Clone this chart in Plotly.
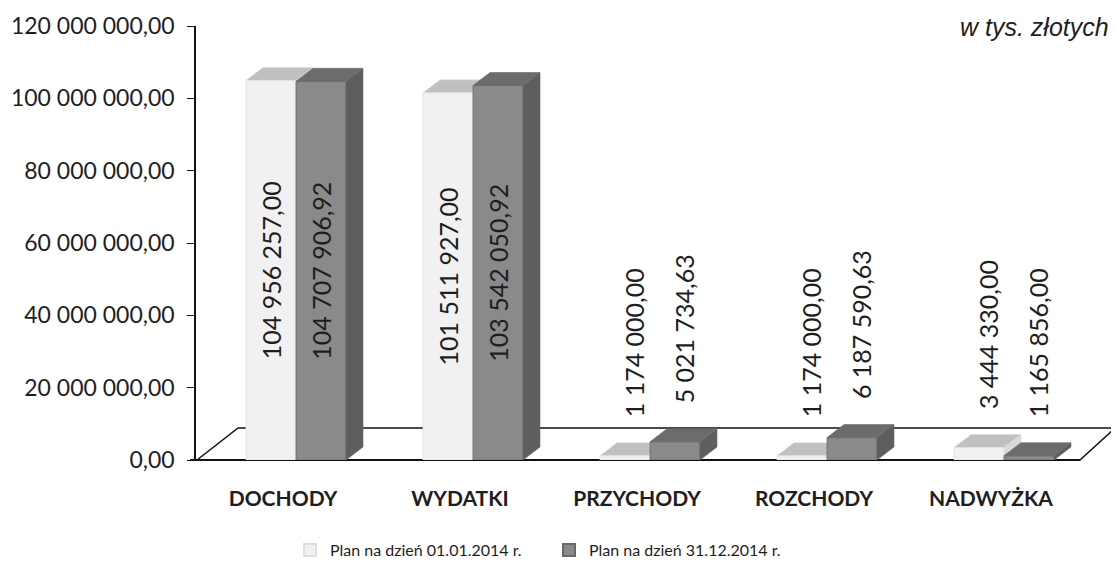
import plotly.graph_objects as go

# ---------------- data ----------------
categories = ["DOCHODY", "WYDATKI", "PRZYCHODY", "ROZCHODY", "NADWYŻKA"]
plan_0101 = [104956257.00, 101511927.00, 1174000.00, 1174000.00, 3444330.00]
plan_3112 = [104707906.92, 103542050.92, 5021734.63, 6187590.63, 1165856.00]
series_names = ["Plan na dzień 01.01.2014 r.", "Plan na dzień 31.12.2014 r."]
y_tick_values = [0, 20e6, 40e6, 60e6, 80e6, 100e6, 120e6]
unit_note = "w tys. złotych"

# ---------------- layout constants (page pixels) ----------------
OFF = 8                      # default body margin of the html page
PAGE_W, PAGE_H = 1119, 583
W, H = PAGE_W - OFF, PAGE_H - OFF
PLOT_L, PLOT_R, PLOT_T, PLOT_B = 196, 1100, 26, 460   # page coordinates
ML, MT = PLOT_L - OFF, PLOT_T - OFF
MR, MB = OFF + W - PLOT_R, OFF + H - PLOT_B
PW, PH = PLOT_R - PLOT_L, PLOT_B - PLOT_T
PX_PER_UNIT = 177.0
X0 = -(283 - PLOT_L) / PX_PER_UNIT
X1 = X0 + PW / PX_PER_UNIT
YMAX = 120e6

BAR_PX = 50.0
w = BAR_PX / PX_PER_UNIT          # bar width in axis units
s = 13.0 / PX_PER_UNIT            # shift of bars right of the category label
DX, DY = 17.0, 13.0               # 3D depth in px
DYD = DY * YMAX / PH              # depth in data units

FONT = "Lato"
TXT = "#1e1e1e"

styles = [
    dict(front="#f1f1f1", top="#c0c0c0", side="#d9d9d9", line="#dedede"),
    dict(front="#8a8a8a", top="#6c6c6c", side="#5e5e5e", line="#686868"),
]
offsets = [-w + s, s]


def fmt(v):
    t = f"{v:,.2f}"
    return t.replace(",", " ").replace(".", ",")


def xp(px):
    return (px - PLOT_L) / PW


def yp(py):
    return (PLOT_B - py) / PH


fig = go.Figure()
series = [plan_0101, plan_3112]
xs = list(range(len(categories)))

for k, vals in enumerate(series):
    st = styles[k]
    texts = [fmt(v) if v > 20e6 else "" for v in vals]
    fig.add_trace(go.Bar(
        x=xs, y=vals, name=series_names[k],
        width=w, offset=offsets[k],
        marker=dict(color=st["front"], line=dict(color=st["line"], width=0.8)),
        text=texts, textposition="inside", insidetextanchor="middle",
        textangle=-90, textfont=dict(family=FONT, size=25, color=TXT),
        cliponaxis=False,
    ))

shapes = []
floor_path = (f"M{xp(197)},{yp(460)} L{xp(238)},{yp(428)} "
              f"L{xp(1115)},{yp(428)} L{xp(1080)},{yp(460)} Z")
shapes.append(dict(type="path", xref="paper", yref="paper", path=floor_path,
                   line=dict(color="#111111", width=1.5), fillcolor="rgba(0,0,0,0)",
                   layer="below"))
shapes.append(dict(type="line", xref="paper", yref="paper",
                   x0=xp(190), x1=xp(1080), y0=yp(460), y1=yp(460),
                   line=dict(color="#111111", width=1.8), layer="below"))

# 3D faces computed from the data values
for k, vals in enumerate(series):
    st = styles[k]
    layer = "below" if k == 0 else "above"
    for i, v in zip(xs, vals):
        left = i + offsets[k]
        top = (f"M0,{v} L{BAR_PX},{v} L{BAR_PX + DX},{v + DYD} "
               f"L{DX},{v + DYD} Z")
        side = (f"M{BAR_PX},{v} L{BAR_PX},0 L{BAR_PX + DX},{DYD} "
                f"L{BAR_PX + DX},{v + DYD} Z")
        for p, col in ((side, st["side"]), (top, st["top"])):
            shapes.append(dict(type="path", xref="x", yref="y",
                               xsizemode="pixel", xanchor=left,
                               path=p, fillcolor=col,
                               line=dict(color=st["line"], width=0.6),
                               layer=layer))

annotations = []
for k, vals in enumerate(series):
    for i, v in zip(xs, vals):
        if v <= 20e6:
            annotations.append(dict(
                x=i + offsets[k] + w / 2, y=v, xref="x", yref="y",
                text=fmt(v), showarrow=False, textangle=-90,
                xanchor="center", yanchor="bottom", xshift=9, yshift=36,
                font=dict(family=FONT, size=25, color=TXT)))

annotations.append(dict(
    x=xp(1111), y=yp(27), xref="paper", yref="paper", text=unit_note,
    showarrow=False, xanchor="right", yanchor="middle",
    font=dict(family="Liberation Sans", size=25, color=TXT, style="italic")))

fig.update_layout(
    width=W, height=H,
    margin=dict(l=ML, r=MR, t=MT, b=MB, autoexpand=False),
    paper_bgcolor="white", plot_bgcolor="rgba(0,0,0,0)",
    barmode="group",
    separators=", ",
    showlegend=True,
    legend=dict(orientation="h", x=xp(290), y=yp(533), xanchor="left", yanchor="top",
                font=dict(family=FONT, size=16, color=TXT),
                entrywidth=214, entrywidthmode="pixels",
                bgcolor="rgba(0,0,0,0)", itemsizing="constant"),
    xaxis=dict(range=[X0, X1], tickvals=xs, ticktext=categories,
               automargin=False,
               showline=False, showgrid=False, zeroline=False, ticks="",
               ticklabelstandoff=24,
               tickfont=dict(family=FONT, size=21, color=TXT, weight="bold")),
    yaxis=dict(range=[0, YMAX], tickvals=y_tick_values, tickformat=",.2f",
               automargin=False,
               showline=True, linecolor="#111111", linewidth=1.5,
               ticks="outside", ticklen=7, tickcolor="#111111", tickwidth=1.2,
               ticklabelstandoff=8,
               showgrid=False, zeroline=False,
               tickfont=dict(family=FONT, size=23, color=TXT)),
    shapes=shapes,
    annotations=annotations,
)

fig.write_html("out.html")
